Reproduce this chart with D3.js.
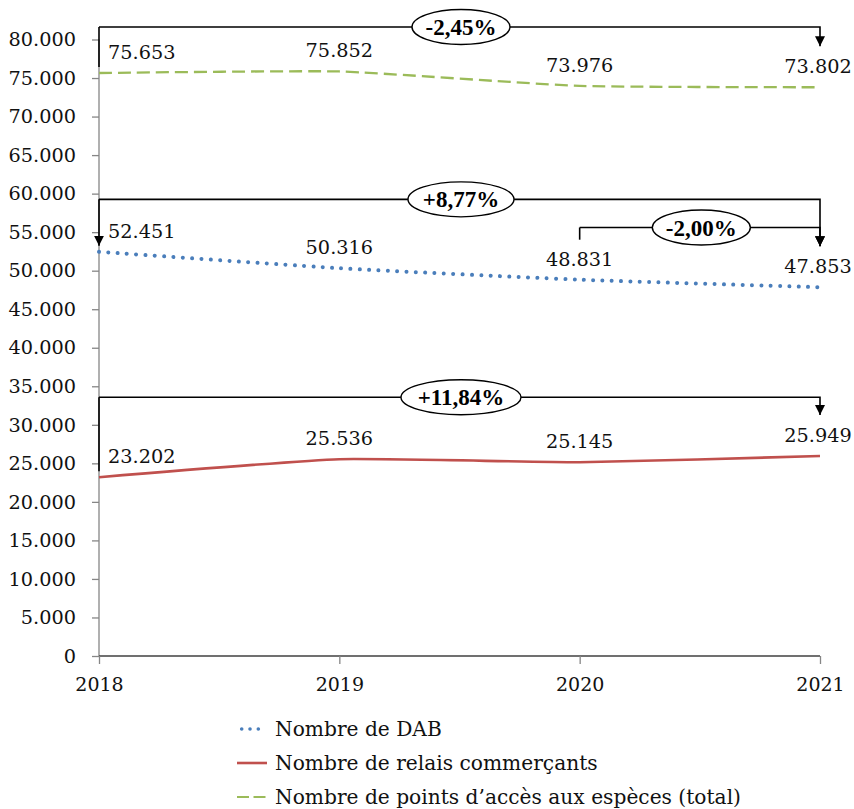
<!DOCTYPE html>
<html>
<head>
<meta charset="utf-8">
<script src="https://cdn.jsdelivr.net/npm/d3@7"></script>
<style>
  html, body { margin: 0; padding: 0; background: #fff; }
  svg { display: block; }
</style>
</head>
<body>
<svg id="chart" width="854" height="809"></svg>
<script>
// Years on the horizontal axis
const years = [2018, 2019, 2020, 2021];

// Series values
const dab = [52451, 50316, 48831, 47853];
const relais = [23202, 25536, 25145, 25949];
const total = [75653, 75852, 73976, 73802];

// Legend names
const seriesNames = [
  "Nombre de DAB",
  "Nombre de relais commerçants",
  "Nombre de points d\u2019accès aux espèces (total)"
];

// Y axis ticks
const yTicks = d3.range(0, 80001, 5000);

// Change brackets: from year, to year, series, label, bracket level (in axis units)
const bracketFrom = [2018, 2018, 2020, 2018];
const bracketTo = [2021, 2021, 2021, 2021];
const bracketSeries = ["total", "dab", "dab", "relais"];
const bracketLabels = ["-2,45%", "+8,77%", "-2,00%", "+11,84%"];
const bracketLevels = [81620, 59260, 55600, 33570];
const bracketStartArrow = [false, true, false, false];

const seriesByKey = { dab, relais, total };
const FONT = "'DejaVu Serif', serif";
const FONT_BOLD = "'Liberation Serif', 'DejaVu Serif', serif";
const FS = 19.3;

const svg = d3.select("#chart");

const x = d3.scalePoint().domain(years).range([99, 820]);
const y = d3.scaleLinear().domain([0, 80000]).range([656, 39.5]);

const fr = d3.formatLocale({ decimal: ",", thousands: ".", grouping: [3], currency: ["", "€"] });
const fmt = fr.format(",d");

const colors = { dab: "#4A7EBB", relais: "#C0504D", total: "#9BBB59" };

// Y axis
const yAxis = svg.append("g")
  .attr("transform", `translate(${x(2018)},0)`)
  .call(d3.axisLeft(y).tickValues(yTicks).tickFormat(d => fmt(d)).tickSize(7).tickPadding(16));
yAxis.attr("font-family", FONT).attr("font-size", FS);
yAxis.select(".domain").attr("stroke", "#868686").attr("stroke-width", 1.3)
  .attr("d", `M0,${y(80000)}V${y(0)}`);
yAxis.selectAll(".tick line").attr("stroke", "#868686").attr("stroke-width", 1.3);
yAxis.selectAll(".tick text").attr("fill", "#111");

// X axis
const xAxis = svg.append("g")
  .attr("transform", `translate(0,${y(0)})`)
  .call(d3.axisBottom(x).tickSize(8).tickPadding(14).tickFormat(d => String(d)));
xAxis.attr("font-family", FONT).attr("font-size", 19);
xAxis.select(".domain").attr("stroke", "#404040").attr("stroke-width", 1.5)
  .attr("d", `M${x(2018)},0H${x(2021)}`);
xAxis.selectAll(".tick line").attr("stroke", "#868686").attr("stroke-width", 1.3);
xAxis.selectAll(".tick text").attr("fill", "#111");

// Lines (lightly smoothed)
const line = d3.line()
  .x((d, i) => x(years[i]))
  .y(d => y(d))
  .curve(d3.curveCardinal.tension(0.55));

svg.append("path").datum(total)
  .attr("d", line).attr("fill", "none")
  .attr("stroke", colors.total).attr("stroke-width", 2.3)
  .attr("stroke-dasharray", "13 6");

svg.append("path").datum(relais)
  .attr("d", line).attr("fill", "none")
  .attr("stroke", colors.relais).attr("stroke-width", 2.6);

svg.append("path").datum(dab)
  .attr("d", line).attr("fill", "none")
  .attr("stroke", colors.dab).attr("stroke-width", 4)
  .attr("stroke-linecap", "round")
  .attr("stroke-dasharray", "0.01 9.33");

// Value labels
function drawLabels(values) {
  svg.append("g").selectAll("text").data(values).join("text")
    .attr("x", (d, i) => i === 0 ? x(years[i]) + 9 : x(years[i]) - (i === 3 ? 2 : 0))
    .attr("y", d => y(d) - 14)
    .attr("text-anchor", (d, i) => i === 0 ? "start" : "middle")
    .attr("font-family", FONT)
    .attr("font-size", FS)
    .attr("fill", "#111")
    .text(d => fmt(d));
}
drawLabels(total);
drawLabels(dab);
drawLabels(relais);

// Arrowhead marker
svg.append("defs").append("marker")
  .attr("id", "arrow")
  .attr("viewBox", "0 0 10 10")
  .attr("refX", 10).attr("refY", 5)
  .attr("markerWidth", 10).attr("markerHeight", 10)
  .attr("markerUnits", "userSpaceOnUse")
  .attr("orient", "auto")
  .append("path").attr("d", "M0,0L10,5L0,10Z").attr("fill", "#000");

// Change brackets
const ellipseRx = [49, 53, 49, 60];
bracketLabels.forEach((lab, k) => {
  const vals = seriesByKey[bracketSeries[k]];
  const i0 = years.indexOf(bracketFrom[k]);
  const i1 = years.indexOf(bracketTo[k]);
  const x0 = x(bracketFrom[k]), x1 = x(bracketTo[k]);
  const yl = y(bracketLevels[k]);
  // start leg ends just above the point (2018) or above its label (other years)
  const y0 = i0 === 0 ? y(vals[i0]) - 6 : y(vals[i0]) - 40;
  const y1 = y(vals[i1]) - 41;
  const g = svg.append("g");
  g.append("path")
    .attr("d", `M${x0},${yl}V${y0}`)
    .attr("fill", "none").attr("stroke", "#000").attr("stroke-width", 1.6)
    .attr("marker-end", bracketStartArrow[k] ? "url(#arrow)" : null);
  g.append("path")
    .attr("d", `M${x0},${yl}H${x1}V${y1}`)
    .attr("fill", "none").attr("stroke", "#000").attr("stroke-width", 1.6)
    .attr("marker-end", "url(#arrow)");
  const cx = (x0 + x1) / 2 + 1.5;
  g.append("ellipse")
    .attr("cx", cx).attr("cy", yl)
    .attr("rx", ellipseRx[k]).attr("ry", 17.5)
    .attr("fill", "#fff").attr("stroke", "#000").attr("stroke-width", 1.4);
  g.append("text")
    .attr("x", cx).attr("y", yl + 8)
    .attr("text-anchor", "middle")
    .attr("font-family", FONT_BOLD)
    .attr("font-size", 23).attr("font-weight", "bold").attr("fill", "#000")
    .text(lab);
});

// Legend
const legendKeys = ["dab", "relais", "total"];
const legend = svg.append("g");
legendKeys.forEach((key, i) => {
  const ly = 729 + i * 34;
  const l = legend.append("line")
    .attr("x1", 237).attr("x2", 267).attr("y1", ly).attr("y2", ly)
    .attr("stroke", colors[key]);
  if (key === "dab") {
    l.attr("x1", 241.7).attr("x2", 259).attr("stroke-width", 3.6).attr("stroke-linecap", "round")
      .attr("stroke-dasharray", "0.01 8.3");
  } else if (key === "relais") {
    l.attr("stroke-width", 2.6);
  } else {
    l.attr("stroke-width", 2.2).attr("stroke-dasharray", "12 4.5");
  }
  legend.append("text")
    .attr("x", 275).attr("y", ly + 7)
    .attr("font-family", FONT)
    .attr("font-size", 20.2).attr("fill", "#111")
    .text(seriesNames[i]);
});
</script>
</body>
</html>
